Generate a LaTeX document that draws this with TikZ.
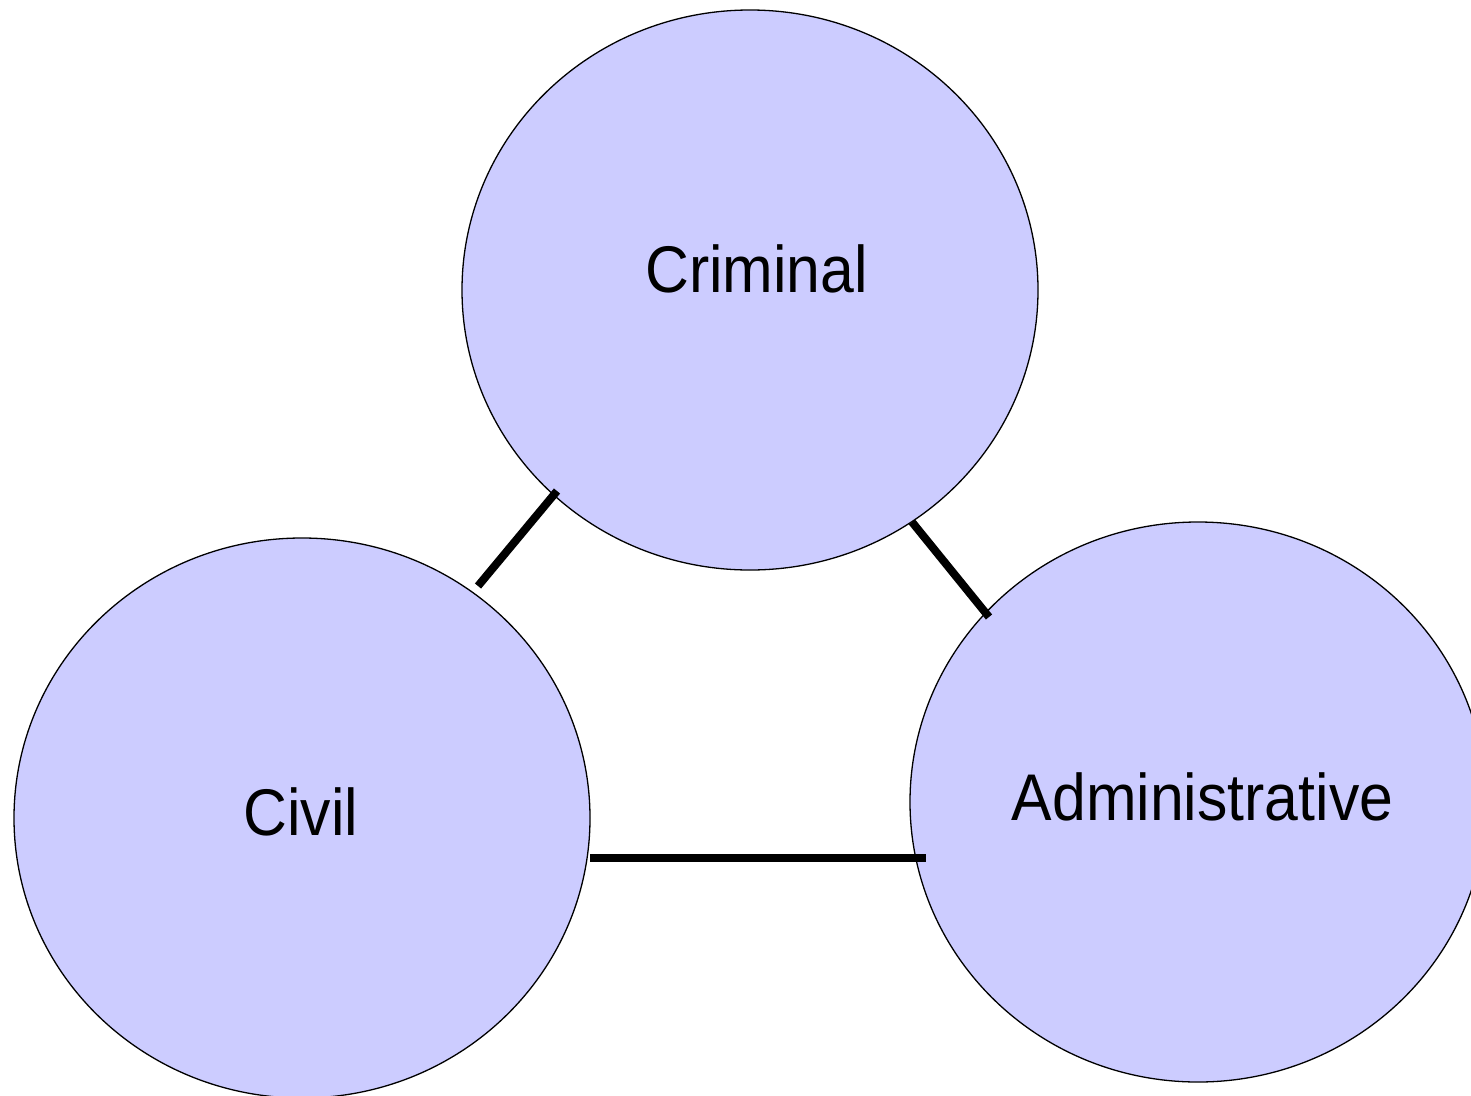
\documentclass[tikz,border=0pt]{standalone}
\usepackage{fontspec}
\setmainfont{Liberation Sans}[FakeStretch=0.92]
\usetikzlibrary{shapes.geometric}
\definecolor{lawfill}{HTML}{CCCCFF}
\begin{document}
\begin{tikzpicture}[x=1pt,y=-1pt,
  area/.style={ellipse, draw=black, line width=1.3pt, fill=lawfill,
    minimum width=576pt, minimum height=560pt, inner sep=0pt},
  lab/.style={anchor=base, inner sep=0pt, font=\fontsize{66}{70}\selectfont},
  link/.style={draw=black, line width=8pt}]
\useasboundingbox (0,0) rectangle (1471,1095);
\clip (0,0) rectangle (1471,1095);
\node[area] (cri) at (750,290) {};
\node[area] (civ) at (302,818) {};
\node[area] (adm) at (1198,802) {};
\node[lab] (tcri) at (756.5,292) {Criminal};
\node[lab] (tciv) at (301,835) {Civil};
\node[lab] (tadm) at (1202.5,820) {Administrative};
\coordinate (l1a) at (478,586);
\coordinate (l1b) at (557,491);
\coordinate (l2a) at (912,522);
\coordinate (l2b) at (989,617);
\coordinate (l3a) at (590,858);
\coordinate (l3b) at (926,858);
\draw[link] (l1a) -- (l1b);
\draw[link] (l2a) -- (l2b);
\draw[link] (l3a) -- (l3b);
\end{tikzpicture}
\end{document}
